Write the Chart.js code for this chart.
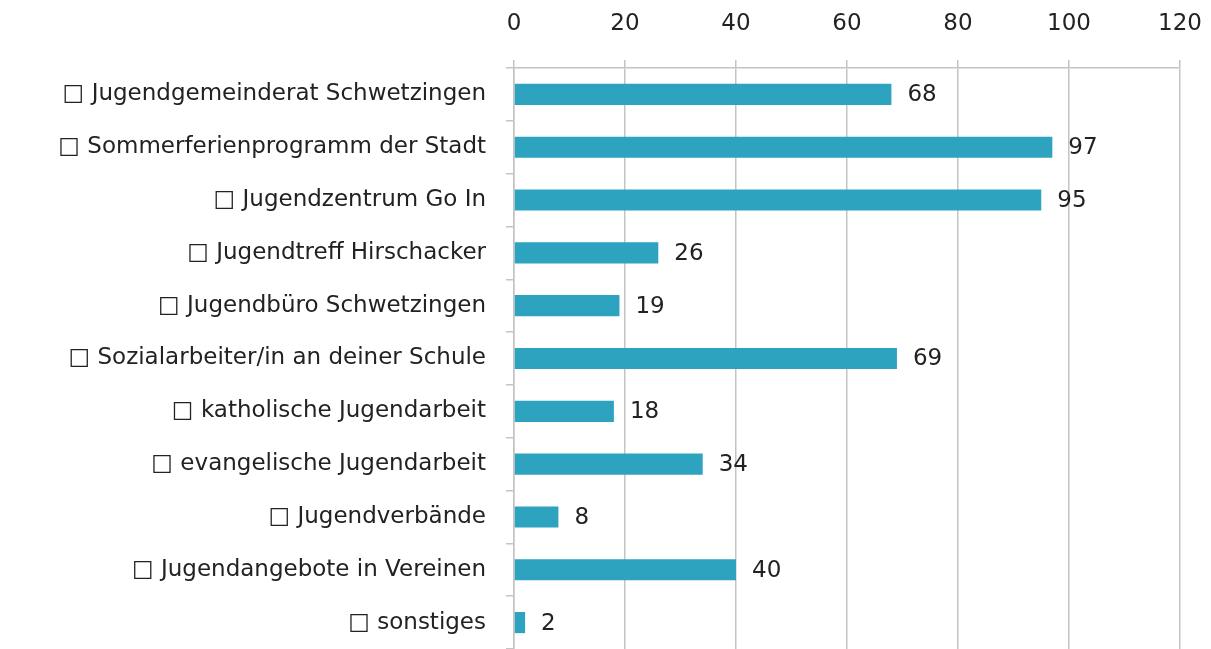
<!DOCTYPE html>
<html>
<head>
<meta charset="utf-8">
<script src="https://cdn.jsdelivr.net/npm/chart.js@4"></script>
<style>
  html, body { margin: 0; padding: 0; background: #fff; }
  #wrap { width: 1211px; height: 649px; }
</style>
</head>
<body>
<div id="wrap"><canvas id="offersChart" width="1211" height="649"></canvas></div>
<script>
// Chart data
const categories = [
    '□ Jugendgemeinderat Schwetzingen',
    '□ Sommerferienprogramm der Stadt',
    '□ Jugendzentrum Go In',
    '□ Jugendtreff Hirschacker',
    '□ Jugendbüro Schwetzingen',
    '□ Sozialarbeiter/in an deiner Schule',
    '□ katholische Jugendarbeit',
    '□ evangelische Jugendarbeit',
    '□ Jugendverbände',
    '□ Jugendangebote in Vereinen',
    '□ sonstiges'
];
const counts = [68, 97, 95, 26, 19, 69, 18, 34, 8, 40, 2];
const axisTicks = [0, 20, 40, 60, 80, 100, 120];

const barColor = '#2ea3c0';
const textColor = '#222222';
const gridColor = '#c4c4c4';
const fontFamily = '"DejaVu Sans", sans-serif';

// Draws the value next to each bar end
const valueLabels = {
    id: 'valueLabels',
    afterDatasetsDraw(chart) {
        const ctx = chart.ctx;
        const meta = chart.getDatasetMeta(0);
        ctx.save();
        ctx.font = '23px ' + fontFamily;
        ctx.fillStyle = textColor;
        ctx.textAlign = 'left';
        ctx.textBaseline = 'middle';
        meta.data.forEach((bar, i) => {
            ctx.fillText(String(counts[i]), bar.x + 16, bar.y + 1);
        });
        ctx.restore();
    }
};

new Chart(document.getElementById('offersChart'), {
    type: 'bar',
    data: {
        labels: categories,
        datasets: [{
            data: counts,
            backgroundColor: barColor,
            borderWidth: 0,
            categoryPercentage: 1,
            barPercentage: 0.4
        }]
    },
    options: {
        indexAxis: 'y',
        responsive: false,
        animation: false,
        layout: { padding: { top: 0, right: 31, bottom: 0, left: 0 } },
        plugins: {
            legend: { display: false },
            tooltip: { enabled: false }
        },
        scales: {
            x: {
                position: 'top',
                min: 0,
                max: 120,
                afterBuildTicks: scale => {
                    scale.ticks = axisTicks.map(v => ({ value: v }));
                },
                afterFit: scale => {
                    scale.height = 68;
                    scale.paddingLeft = 0;
                    scale.paddingRight = 0;
                },
                ticks: {
                    color: textColor,
                    font: { family: fontFamily, size: 23 },
                    padding: 22
                },
                grid: {
                    color: gridColor,
                    lineWidth: 1.5,
                    tickLength: 8
                },
                border: { color: gridColor, width: 1.5 }
            },
            y: {
                afterFit: scale => {
                    scale.width = 514;
                    scale.paddingTop = 0;
                    scale.paddingBottom = 0;
                },
                ticks: {
                    color: textColor,
                    font: { family: fontFamily, size: 23 },
                    padding: 20
                },
                grid: {
                    offset: true,
                    drawOnChartArea: false,
                    color: gridColor,
                    lineWidth: 1.5,
                    tickLength: 8
                },
                border: { color: gridColor, width: 1.5 }
            }
        }
    },
    plugins: [valueLabels]
});
</script>
</body>
</html>
